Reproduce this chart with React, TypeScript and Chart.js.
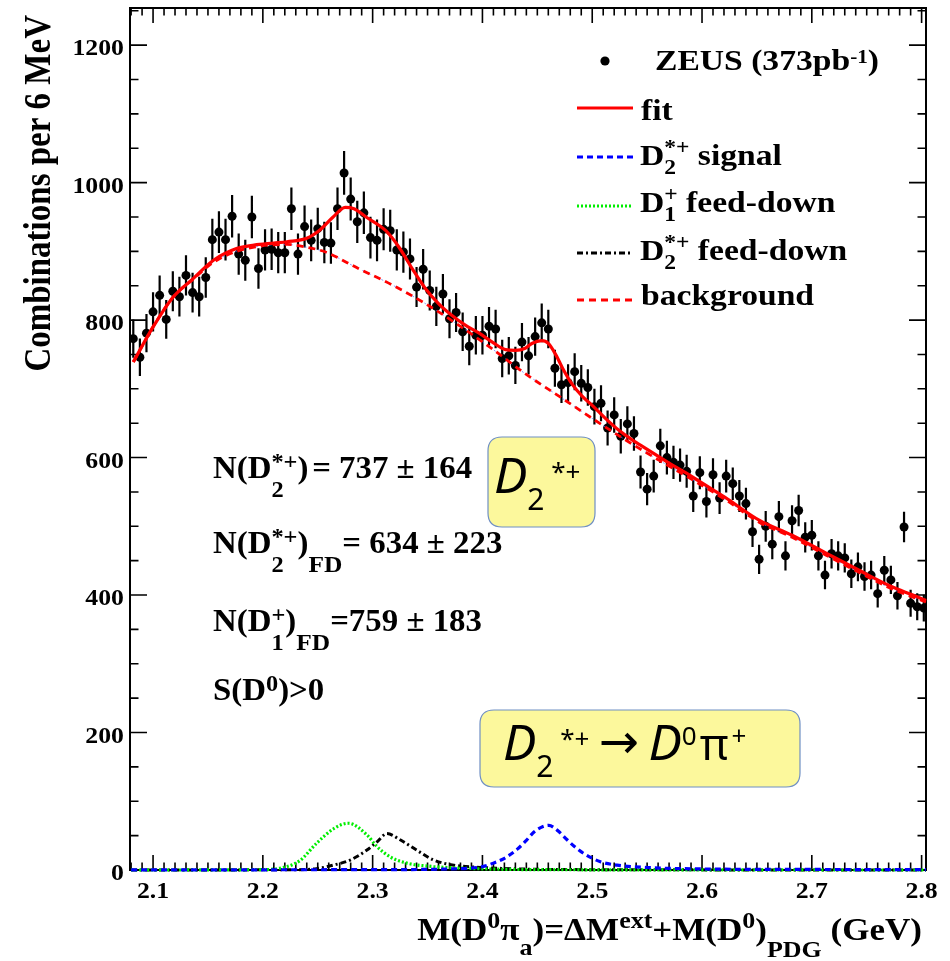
import React, { useEffect, useRef } from 'react';
import { Chart, registerables } from 'chart.js';

Chart.register(...registerables);

// ---------------- data ----------------
const binStart = 2.082; // GeV, centre of first 6 MeV bin
const binWidth = 0.006;
const counts = [
  773, 746, 781, 812, 836, 801, 842, 834, 865, 840, 834, 862, 917, 928, 917, 951, 896, 887, 950, 875,
  902, 903, 898, 898, 962, 896, 936, 916, 933, 913, 912,
  962, 1014, 976, 943, 956, 920, 916, 932, 930, 902, 899, 889, 848, 874, 843, 820, 838, 802, 811, 783,
  762, 778, 778, 791, 787, 744, 748, 734, 768, 748,
  776, 796, 787, 730, 706, 709, 725, 708, 702, 674, 679, 643, 662, 631, 649, 635, 579, 554, 573, 617,
  600, 593, 589, 580, 544, 578, 536, 575, 541, 573,
  562, 544, 533, 492, 452, 500, 474, 514, 457, 508, 523, 484, 487, 457, 429, 460, 457, 454, 431, 441,
  427, 429, 402, 436, 422, 399, 499, 388, 383, 381,
];
const massBins = counts.map((_, i) => +(binStart + i * binWidth).toFixed(3));

const xTickLabels = ['2.1', '2.2', '2.3', '2.4', '2.5', '2.6', '2.7', '2.8'];
const yTickLabels = ['0', '200', '400', '600', '800', '1000', '1200'];

const fitX = [2.082, 2.1, 2.118, 2.137, 2.155, 2.176, 2.192, 2.21, 2.222, 2.24, 2.252, 2.264, 2.275, 2.283, 2.294,
  2.312, 2.324, 2.336, 2.348, 2.36, 2.372, 2.384, 2.397, 2.409, 2.421, 2.43, 2.439, 2.445, 2.454, 2.46, 2.467,
  2.473, 2.482, 2.491, 2.5, 2.512, 2.524, 2.536, 2.549, 2.561, 2.573, 2.585, 2.597, 2.609, 2.621, 2.652, 2.682,
  2.713, 2.743, 2.773, 2.792, 2.804];
const fitY = [739, 790, 833, 861, 887, 904, 909, 912, 914, 919, 931, 950, 964, 962, 950,
  930, 906, 875, 846, 824, 807, 793, 781, 768, 757, 756, 759, 766, 770, 766, 749,
  730, 706, 689, 676, 657, 640, 626, 613, 601, 589, 578, 566, 554, 542, 509, 487,
  461, 436, 412, 400, 392];

const bgX = [2.082, 2.1, 2.118, 2.137, 2.155, 2.176, 2.192, 2.205, 2.222, 2.24, 2.257, 2.287, 2.318, 2.348, 2.378,
  2.409, 2.439, 2.47, 2.5, 2.53, 2.561, 2.591, 2.621, 2.652, 2.682, 2.713, 2.743, 2.773, 2.792, 2.804];
const bgY = [739, 790, 833, 860, 884, 900, 906, 909, 910, 906, 899, 875, 851, 824, 793,
  758, 722, 689, 657, 626, 596, 568, 539, 506, 484, 458, 433, 409, 397, 390];

const sigX = [2.08, 2.3, 2.38, 2.4, 2.41, 2.42, 2.4315, 2.44, 2.4467, 2.4535, 2.4604, 2.468, 2.4771, 2.4847, 2.4923,
  2.5075, 2.5227, 2.553, 2.6, 2.7, 2.804];
const sigY = [0.2, 0.5, 2, 5, 10, 17, 30, 43, 55, 62, 65, 58, 44, 33, 24, 12, 7, 3.4, 1.5, 0.8, 0.5];

const d1fdX = [2.08, 2.2, 2.222, 2.234, 2.249, 2.2644, 2.278, 2.2948, 2.304, 2.316, 2.331, 2.3555, 2.386, 2.42, 2.5, 2.804];
const d1fdY = [0, 0.5, 5, 14, 39, 60, 68, 51, 34, 19, 10, 5, 2.4, 1, 0.3, 0];

const d2fdX = [2.08, 2.23, 2.249, 2.264, 2.2796, 2.2948, 2.304, 2.313, 2.325, 2.34, 2.3555, 2.374, 2.395, 2.416, 2.45, 2.5, 2.804];
const d2fdY = [0, 0.5, 2, 7, 14.5, 29, 41, 53, 44, 29, 14.5, 7, 4, 2.4, 1, 0.5, 0];

const X_MIN = 2.079;
const X_MAX = 2.804;
const Y_MIN = 0;
const Y_MAX = 1254;

// ---------------- text helpers ----------------
const SERIF = '"Liberation Serif", "Times New Roman", serif';
const SANS = '"Noto Sans", "Open Sans", "DejaVu Sans", sans-serif';

type Seg = { t: string; sz?: number; dy?: number; it?: boolean; fam?: string; w?: string; stack?: boolean };
type Base = { sz: number; w: string; fam: string; sx: number };

function drawRich(ctx: CanvasRenderingContext2D, segs: Seg[], x: number, y: number, base: Base, align = 'left') {
  const fontOf = (s: Seg) => `${s.it ? 'italic ' : ''}${s.w ?? base.w} ${s.sz ?? base.sz}px ${s.fam ?? base.fam}`;
  const pos: number[] = [];
  let cx = 0;
  let pend = 0;
  for (const s of segs) {
    ctx.font = fontOf(s);
    const w = ctx.measureText(s.t).width * base.sx;
    pos.push(cx);
    if (s.stack) {
      pend = w;
    } else {
      cx += Math.max(w, pend);
      pend = 0;
    }
  }
  const total = cx;
  const start = align === 'right' ? x - total : align === 'center' ? x - total / 2 : x;
  ctx.textAlign = 'left';
  ctx.textBaseline = 'alphabetic';
  segs.forEach((s, i) => {
    ctx.save();
    ctx.font = fontOf(s);
    ctx.translate(start + pos[i], y + (s.dy ?? 0));
    ctx.scale(base.sx, 1);
    ctx.fillText(s.t, 0, 0);
    ctx.restore();
  });
}

function roundRect(ctx: CanvasRenderingContext2D, x: number, y: number, w: number, h: number, r: number) {
  ctx.beginPath();
  ctx.moveTo(x + r, y);
  ctx.lineTo(x + w - r, y);
  ctx.quadraticCurveTo(x + w, y, x + w, y + r);
  ctx.lineTo(x + w, y + h - r);
  ctx.quadraticCurveTo(x + w, y + h, x + w - r, y + h);
  ctx.lineTo(x + r, y + h);
  ctx.quadraticCurveTo(x, y + h, x, y + h - r);
  ctx.lineTo(x, y + r);
  ctx.quadraticCurveTo(x, y, x + r, y);
  ctx.closePath();
}

// ---------------- plugins ----------------
const framePlugin = {
  id: 'frameTicks',
  beforeDatasetsDraw(chart: any) {
    const { ctx, chartArea: a, scales } = chart;
    const xs = scales.x;
    const ys = scales.y;
    ctx.save();
    ctx.strokeStyle = '#000';
    ctx.lineWidth = 2;
    ctx.strokeRect(a.left, a.top, a.right - a.left, a.bottom - a.top);
    ctx.lineWidth = 1.6;
    ctx.beginPath();
    for (let v = 0; v <= Y_MAX; v += 50) {
      const py = ys.getPixelForValue(v);
      const len = v % 200 === 0 ? 17 : 8.5;
      ctx.moveTo(a.left, py);
      ctx.lineTo(a.left + len, py);
      ctx.moveTo(a.right, py);
      ctx.lineTo(a.right - len, py);
    }
    for (let k = 208; k <= 280; k++) {
      const px = xs.getPixelForValue(k / 100);
      const len = k % 10 === 0 ? 15 : 7.5;
      ctx.moveTo(px, a.bottom);
      ctx.lineTo(px, a.bottom - len);
      ctx.moveTo(px, a.top);
      ctx.lineTo(px, a.top + len);
    }
    ctx.stroke();
    // statistical error bars of the data points
    ctx.lineWidth = 2.2;
    ctx.beginPath();
    counts.forEach((c, i) => {
      const px = xs.getPixelForValue(massBins[i]);
      const e = Math.sqrt(c);
      ctx.moveTo(px, ys.getPixelForValue(c + e));
      ctx.lineTo(px, ys.getPixelForValue(c - e));
    });
    ctx.stroke();
    ctx.restore();
  },
};

const textPlugin = {
  id: 'texts',
  afterDraw(chart: any) {
    const { ctx, chartArea: a, scales } = chart;
    const xs = scales.x;
    const ys = scales.y;
    ctx.save();
    ctx.fillStyle = '#000';

    const tickBase: Base = { sz: 23, w: 'bold', fam: SERIF, sx: 1.12 };
    yTickLabels.forEach((l) => {
      const py = ys.getPixelForValue(Number(l));
      drawRich(ctx, [{ t: l }], a.left - 6, py + 10, tickBase, 'right');
    });
    xTickLabels.forEach((l) => {
      const px = xs.getPixelForValue(Number(l));
      drawRich(ctx, [{ t: l }], px, 898, tickBase, 'center');
    });

    // y axis title (rotated)
    ctx.save();
    ctx.translate(50, 15);
    ctx.rotate(-Math.PI / 2);
    ctx.scale(1, 1.16);
    ctx.font = `bold 33px ${SERIF}`;
    ctx.textAlign = 'right';
    ctx.textBaseline = 'alphabetic';
    ctx.fillText('Combinations per 6 MeV', 0, 0);
    ctx.restore();

    // x axis title
    const xt: Base = { sz: 31, w: 'bold', fam: SERIF, sx: 1.13 };
    drawRich(ctx, [
      { t: 'M(D' }, { t: '0', sz: 23, dy: -12 }, { t: 'π' }, { t: 'a', sz: 23, dy: 15 },
      { t: ')=ΔM' }, { t: 'ext', sz: 23, dy: -12 }, { t: '+M(D' }, { t: '0', sz: 23, dy: -12 },
      { t: ')' }, { t: 'PDG', sz: 23, dy: 17 }, { t: ' (GeV)' },
    ], 922, 940, xt, 'right');

    // legend
    const lg: Base = { sz: 30, w: 'bold', fam: SERIF, sx: 1.12 };
    ctx.beginPath();
    ctx.arc(605, 61, 4.6, 0, Math.PI * 2);
    ctx.fill();
    drawRich(ctx, [{ t: 'ZEUS (373pb' }, { t: '-1', sz: 19, dy: -7 }, { t: ')' }], 655, 70, lg);
    const lines: [number, string, number[], number][] = [
      [108, '#ff0000', [], 3],
      [157, '#0000ff', [6, 4], 3.2],
      [206, '#00ee00', [2, 2], 3.2],
      [253, '#000000', [6, 3, 2, 3], 3],
      [300, '#ff0000', [7, 5], 2.8],
    ];
    lines.forEach(([y, c, d, w]) => {
      ctx.save();
      ctx.strokeStyle = c;
      ctx.lineWidth = w;
      ctx.setLineDash(d);
      ctx.beginPath();
      ctx.moveTo(577, y);
      ctx.lineTo(633, y);
      ctx.stroke();
      ctx.restore();
    });
    drawRich(ctx, [{ t: 'fit' }], 641, 120, lg);
    drawRich(ctx, [{ t: 'D' }, { t: '2', sz: 21, dy: 9, stack: true }, { t: '*+', sz: 21, dy: -11 }, { t: ' signal' }], 640, 165, lg);
    drawRich(ctx, [{ t: 'D' }, { t: '1', sz: 21, dy: 9, stack: true }, { t: '+', sz: 21, dy: -11 }, { t: ' feed-down' }], 640, 212, lg);
    drawRich(ctx, [{ t: 'D' }, { t: '2', sz: 21, dy: 9, stack: true }, { t: '*+', sz: 21, dy: -11 }, { t: ' feed-down' }], 640, 260, lg);
    drawRich(ctx, [{ t: 'background' }], 641, 305, lg);

    // fit results
    const an: Base = { sz: 31, w: 'bold', fam: SERIF, sx: 1.06 };
    drawRich(ctx, [
      { t: 'N(D' }, { t: '2', sz: 23, dy: 19, stack: true }, { t: '*+', sz: 23, dy: -9 }, { t: ')' },
      { t: ' ', sz: 14 }, { t: '=' }, { t: ' 737 ± 164' },
    ], 213, 478, an);
    drawRich(ctx, [
      { t: 'N(D' }, { t: '2', sz: 23, dy: 19, stack: true }, { t: '*+', sz: 23, dy: -9 }, { t: ')' },
      { t: 'FD', sz: 24, dy: 19 }, { t: '=' }, { t: ' 634 ± 223' },
    ], 213, 553, an);
    drawRich(ctx, [
      { t: 'N(D' }, { t: '1', sz: 23, dy: 19, stack: true }, { t: '+', sz: 23, dy: -9 }, { t: ')' },
      { t: 'FD', sz: 24, dy: 19 }, { t: '=' }, { t: '759 ± 183' },
    ], 213, 631, an);
    drawRich(ctx, [{ t: 'S(D' }, { t: '0', sz: 23, dy: -9 }, { t: ')>0' }], 213, 700, an);

    // highlighted boxes
    const boxes: [number, number, number, number][] = [[488, 437, 107, 90], [480, 710, 320, 77]];
    boxes.forEach(([x, y, w, h]) => {
      roundRect(ctx, x, y, w, h, 14);
      ctx.fillStyle = '#fcf89c';
      ctx.fill();
      ctx.strokeStyle = '#6f8fc4';
      ctx.lineWidth = 1.2;
      ctx.stroke();
    });
    ctx.fillStyle = '#000';
    const bx: Base = { sz: 50, w: 'normal', fam: SANS, sx: 1 };
    drawRich(ctx, [{ t: 'D', it: true }, { t: '2', sz: 30, dy: 17 }, { t: ' *+', sz: 26, dy: -12 }], 494, 493, bx);
    drawRich(ctx, [
      { t: 'D', it: true }, { t: '2', sz: 30, dy: 17 }, { t: ' *+', sz: 26, dy: -12 },
      { t: ' ', sz: 36 }, { t: '→', sz: 48, dy: -2 }, { t: ' ', sz: 36 },
      { t: 'D', it: true }, { t: '0', sz: 26, dy: -15 }, { t: ' ', sz: 12 }, { t: 'π', sz: 44 },
      { t: ' ', sz: 12 }, { t: '+', sz: 26, dy: -15 },
    ], 503, 760, bx);

    ctx.restore();
  },
};

// ---------------- component ----------------
export default function App() {
  const ref = useRef<HTMLCanvasElement | null>(null);

  useEffect(() => {
    if (!ref.current) return;
    const pts = (xsArr: number[], ysArr: number[]) => xsArr.map((x, i) => ({ x, y: ysArr[i] }));
    const curve = (label: string, data: any[], color: string, width: number, dash: number[], order: number) => ({
      type: 'line' as const,
      label,
      data,
      borderColor: color,
      borderWidth: width,
      borderDash: dash,
      pointRadius: 0,
      fill: false,
      showLine: true,
      cubicInterpolationMode: 'monotone' as const,
      clip: 4,
      order,
    });
    const chart = new Chart(ref.current, {
      type: 'scatter',
      data: {
        datasets: [
          {
            type: 'scatter',
            label: 'ZEUS (373pb-1)',
            data: pts(massBins, counts),
            pointRadius: 4.5,
            pointBackgroundColor: '#000',
            pointBorderWidth: 0,
            backgroundColor: '#000',
            order: 10,
          } as any,
          curve('fit', pts(fitX, fitY), '#ff0000', 3.2, [], 1),
          curve('background', pts(bgX, bgY), '#ff0000', 2.8, [7, 5], 2),
          curve('background (aux)', pts(bgX, bgY), 'rgba(90,110,255,0.7)', 1, [2, 5], 3),
          curve('D2*+ signal', pts(sigX, sigY), '#0000ff', 3.2, [6, 4], 4),
          curve('D1+ feed-down', pts(d1fdX, d1fdY), '#00ee00', 3.2, [2, 2], 5),
          curve('D2*+ feed-down', pts(d2fdX, d2fdY), '#000000', 3, [6, 3, 2, 3], 6),
        ],
      },
      options: {
        responsive: false,
        animation: false,
        layout: { padding: { left: 130, top: 8, right: 24, bottom: 91 } },
        scales: {
          x: { type: 'linear', display: false, min: X_MIN, max: X_MAX },
          y: { type: 'linear', display: false, min: Y_MIN, max: Y_MAX },
        },
        plugins: { legend: { display: false }, tooltip: { enabled: false } },
      },
      plugins: [framePlugin, textPlugin],
    });
    return () => chart.destroy();
  }, []);

  return (
    <div style={{ position: 'absolute', left: 0, top: 0, width: 950, height: 961, background: '#fff' }}>
      <canvas ref={ref} width={950} height={961} style={{ display: 'block', width: 950, height: 961 }} />
    </div>
  );
}
